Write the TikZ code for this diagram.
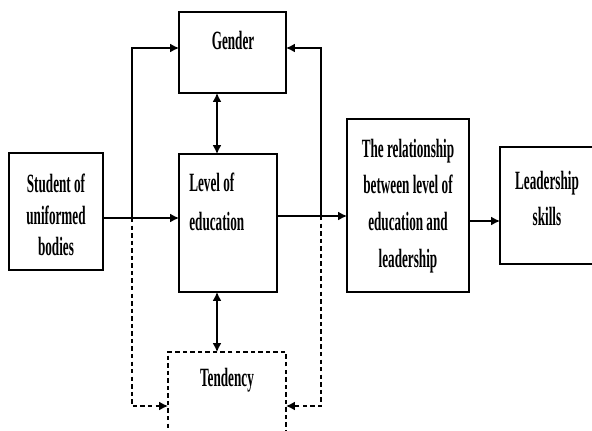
\documentclass[tikz,border=0pt]{standalone}
\usepackage{fontspec}
\setmainfont{Liberation Serif}[FakeStretch=0.5]
\usetikzlibrary{arrows.meta}
\begin{document}
\begin{tikzpicture}[x=0.02cm,y=-0.02cm,
    box/.style={draw,line width=0.85pt,inner sep=0pt,outer sep=0pt},
    txt/.style={font=\fontsize{15}{21}\selectfont\bfseries,inner sep=0pt,align=center},
    link/.style={line width=0.85pt,-{Latex[length=5pt,width=5pt]}},
    both/.style={line width=0.85pt,{Latex[length=5pt,width=5pt]}-{Latex[length=5pt,width=5pt]}},
    dlink/.style={link,dash pattern=on 2.5pt off 1.8pt}]
  \useasboundingbox (0,0) rectangle (592,430);
  \clip (0,0) rectangle (592,430);
  \draw
    (56,211.5) node[box,minimum width=1.88cm,minimum height=2.34cm] (student){}
    (232.5,52.5) node[box,minimum width=2.14cm,minimum height=1.62cm] (gender){}
    (228,223) node[box,minimum width=1.96cm,minimum height=2.76cm] (level){}
    (227,406) node[box,dash pattern=on 2.5pt off 1.8pt,minimum width=2.36cm,minimum height=2.16cm] (tendency){}
    (408,205.5) node[box,minimum width=2.44cm,minimum height=3.46cm] (relation){}
    (550,205.5) node[box,minimum width=2cm,minimum height=2.34cm] (leader){};
  \draw
    (56,215) node[txt,font=\fontsize{15}{18}\selectfont\bfseries] (studenttxt){Student of\\uniformed\\bodies}
    (233,40) node[txt] (gendertxt){Gender}
    (189,202) node[txt,anchor=west,align=left,font=\fontsize{15}{22}\selectfont\bfseries] (leveltxt){Level of\\education}
    (227,380) node[txt] (tendencytxt){Tendency}
    (408,206) node[txt] (relationtxt){The relationship\\between level of\\education and\\leadership}
    (547,198.5) node[txt] (leadertxt){Leadership\\skills};
  \coordinate (lsplit) at (132,218);
  \coordinate (rsplit) at (321,216);
  \coordinate (axis) at (217,0);
  \begin{scope}
    \draw[line width=0.85pt] (student.east |- lsplit) -- (lsplit);
    \draw[link] (lsplit) -- (level.west |- lsplit);
    \draw[link] (lsplit) |- ([yshift=0.09cm]gender.west);
    \draw[dlink] (lsplit) |- (tendency.west);
    \draw[line width=0.85pt] (level.east |- rsplit) -- (rsplit);
    \draw[link] (rsplit) -- (relation.west |- rsplit);
    \draw[link] (rsplit) |- ([yshift=0.09cm]gender.east);
    \draw[dlink] (rsplit) |- (tendency.east);
    \draw[link] (relation.east |- 0,221) -- (leader.west |- 0,221);
    \draw[both] (gender.south -| axis) -- (level.north -| axis);
    \draw[both] (level.south -| axis) -- (tendency.north -| axis);
  \end{scope}
\end{tikzpicture}
\end{document}
